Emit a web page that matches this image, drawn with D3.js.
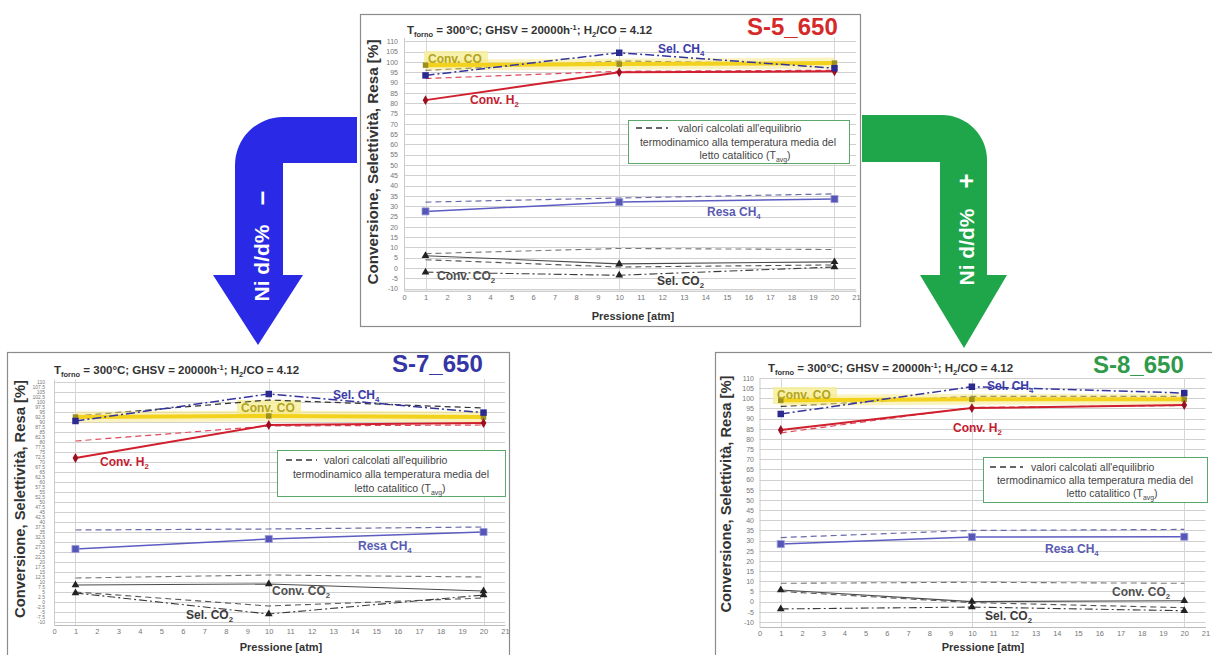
<!DOCTYPE html>
<html><head><meta charset="utf-8">
<script src="https://cdn.jsdelivr.net/npm/d3@7"></script>
<style>
body{margin:0;background:#fff;}
svg{display:block;}
text{font-family:Arial,"Liberation Sans",sans-serif;}
</style>
</head><body>
<svg id="fig" width="1212" height="655"></svg>
<script>
// ---------------- DATA ----------------
const pressures = [1, 10, 20];
const xTickValues = d3.range(0, 22);
const yTicksS5 = d3.range(-10, 111, 5);
const yTicksS7 = d3.range(-10, 111, 2.5);
const yTicksS8 = d3.range(-10, 111, 5);
const gridTicks = d3.range(-10, 111, 5);
const vGridPressures = [1, 10, 20];

// S-5_650
const s5ConvCO = [98.5, 99, 99.5];
const s5SelCH4 = [93.5, 104.5, 97];
const s5ConvH2 = [81.5, 95, 95.5];
const s5ResaCH4 = [27.5, 32, 33.5];
const s5ConvCO2 = [6, 2, 3];
const s5SelCO2 = [-2, -3.5, 0.5];
const s5EqSelCH4 = [96, 100.5, 99];
const s5EqConvH2 = [92, 95.5, 96];
const s5EqResaCH4 = [32, 34, 36];
const s5EqConvCO2 = [7, 9.5, 9];
const s5EqSelCO2 = [4, 0.5, 1.5];

// S-7_650
const s7ConvCO = [92.5, 93, 92.5];
const s7SelCH4 = [90.5, 104, 94.7];
const s7ConvH2 = [72, 88.5, 89.5];
const s7ResaCH4 = [26.5, 31.5, 35];
const s7ConvCO2 = [8.5, 9, 5.5];
const s7SelCO2 = [4.5, -6, 3.5];
const s7EqSelCH4 = [93, 101, 97];
const s7EqConvH2 = [80.5, 88, 88.5];
const s7EqResaCH4 = [36, 36.5, 37.5];
const s7EqConvCO2 = [12, 13.5, 12.5];
const s7EqSelCO2 = [5, -2, 2];

// S-8_650
const s8ConvCO = [99, 99.5, 99.5];
const s8SelCH4 = [92.3, 105.7, 102.6];
const s8ConvH2 = [84.4, 95.2, 96.7];
const s8ResaCH4 = [28.3, 31.8, 31.9];
const s8ConvCO2 = [5.7, 0, 0.4];
const s8SelCO2 = [-3.6, -2.7, -4.5];
const s8EqSelCH4 = [96, 101, 101];
const s8EqConvH2 = [83, 95.5, 96.5];
const s8EqResaCH4 = [31.5, 35, 35.5];
const s8EqConvCO2 = [9, 9.5, 9];
const s8EqSelCO2 = [5, -0.5, -3];

const arrowTexts = ["Ni d/d%", "Ni d/d%"];
const arrowSigns = ["–", "+"];

// ---------------- STYLES ----------------
const sty = {
  convCO:{stroke:"#f3d21e", w:4},
  selCH4:{stroke:"#34349e", w:1.5, dash:"9,3,2,3"},
  convH2:{stroke:"#d0202e", w:2},
  resaCH4:{stroke:"#5c5cc2", w:1.5},
  convCO2:{stroke:"#4a4a4a", w:1.1},
  selCO2:{stroke:"#3a3a3a", w:1.1, dash:"8,3,2,3"},
  eqSelCH4:{stroke:"#333", w:1.2, dash:"6,4"},
  eqConvH2:{stroke:"#e0485a", w:1.2, dash:"6,4"},
  eqResaCH4:{stroke:"#6a6aa8", w:1.2, dash:"6,4"},
  eqConvCO2:{stroke:"#777", w:1.1, dash:"6,4"},
  eqSelCO2:{stroke:"#555", w:1.1, dash:"6,4"}
};
const LBL = 12;
const LEG = 10.5;
const COND = 11.5;

const svg = d3.select("#fig");

function addSubText(g, x, y, parts, opts) {
  const t = g.append("text").attr("x", x).attr("y", y)
    .attr("font-size", opts.size).attr("font-weight", opts.weight || "bold")
    .attr("fill", opts.fill).attr("text-anchor", opts.anchor || "start");
  parts.forEach(p => {
    const ts = t.append("tspan").text(p.t);
    if (p.sub) ts.attr("font-size", opts.size * 0.65).attr("dy", opts.size * 0.25);
    else if (p.sup) ts.attr("font-size", opts.size * 0.65).attr("dy", -opts.size * 0.35);
    if (p.reset) ts.attr("dy", p.reset * opts.size);
  });
  return t;
}

function drawChart(c) {
  const g = svg.append("g");
  const [fx0, fy0, fx1, fy1] = c.frame;
  g.append("rect").attr("x", fx0 + 0.5).attr("y", fy0 + 0.5)
    .attr("width", fx1 - fx0).attr("height", fy1 - fy0)
    .attr("fill", "#fff").attr("stroke", "#8c8c8c").attr("stroke-width", 1.2);

  const x = d3.scaleLinear().domain([0, 21]).range(c.xRange);
  const y = d3.scaleLinear().domain(c.yDomain).range(c.yRange);

  g.append("g").selectAll("line").data(gridTicks).join("line")
    .attr("x1", x(0)).attr("x2", x(21))
    .attr("y1", d => Math.round(y(d)) + 0.5).attr("y2", d => Math.round(y(d)) + 0.5)
    .attr("stroke", "#d0d0d0").attr("stroke-width", 1);
  g.append("g").selectAll("line").data(vGridPressures).join("line")
    .attr("x1", d => Math.round(x(d)) + 0.5).attr("x2", d => Math.round(x(d)) + 0.5)
    .attr("y1", y(c.yDomain[1])).attr("y2", y(c.yDomain[0]))
    .attr("stroke", "#d6d6d6").attr("stroke-width", 1);

  const xa = g.append("g").attr("transform", `translate(0,${y(c.yDomain[0])})`)
    .call(d3.axisBottom(x).tickValues(xTickValues).tickSize(0).tickPadding(c.xPad).tickFormat(d3.format("d")));
  xa.select(".domain").attr("stroke", "#bbb");
  xa.selectAll("text").attr("font-size", 7.5).attr("fill", "#777").attr("font-family", "Arial");

  const ya = g.append("g").attr("transform", `translate(${x(0)},0)`)
    .call(d3.axisLeft(y).tickValues(c.yTicks).tickSize(0).tickPadding(c.yPad).tickFormat(d => d));
  ya.select(".domain").attr("stroke", "#ccc");
  ya.selectAll("text").attr("font-size", c.yFont).attr("fill", "#777").attr("font-family", "Arial");

  const hl = c.labels.convCO.hl;
  g.append("rect").attr("x", hl[0]).attr("y", hl[1]).attr("width", hl[2]).attr("height", hl[3])
    .attr("fill", "#f6ee9c").attr("opacity", 0.85);

  const line = d3.line().x(d => x(d[0])).y(d => y(d[1]));
  const pts = arr => pressures.map((p, i) => [p, arr[i]]);

  function drawSeries(arr, s, opacity) {
    g.append("path").datum(pts(arr)).attr("d", line)
      .attr("fill", "none").attr("stroke", s.stroke).attr("stroke-width", s.w)
      .attr("stroke-dasharray", s.dash || null).attr("opacity", opacity || 1);
  }

  drawSeries(c.d.eqSelCH4, sty.eqSelCH4);
  drawSeries(c.d.eqConvH2, sty.eqConvH2);
  drawSeries(c.d.eqResaCH4, sty.eqResaCH4);
  drawSeries(c.d.eqConvCO2, sty.eqConvCO2);
  drawSeries(c.d.eqSelCO2, sty.eqSelCO2);

  drawSeries(c.d.convCO, {stroke:"#f7ea8a", w:11}, 0.55);
  drawSeries(c.d.convCO, sty.convCO);
  drawSeries(c.d.convH2, sty.convH2);
  drawSeries(c.d.selCH4, sty.selCH4);
  drawSeries(c.d.resaCH4, sty.resaCH4);
  drawSeries(c.d.convCO2, sty.convCO2);
  drawSeries(c.d.selCO2, sty.selCO2);

  function markers(arr, type, size, fill, stroke) {
    g.append("g").selectAll("path").data(pts(arr)).join("path")
      .attr("transform", d => `translate(${x(d[0])},${y(d[1])})`)
      .attr("d", d3.symbol().type(type).size(size))
      .attr("fill", fill).attr("stroke", stroke || "none").attr("stroke-width", 0.8);
  }
  markers(c.d.convCO, d3.symbolSquare, 30, "#9c9020");
  markers(c.d.convH2, d3.symbolDiamond, 28, "#9a1020");
  markers(c.d.selCH4, d3.symbolSquare, 42, "#2a2a90");
  markers(c.d.resaCH4, d3.symbolSquare, 50, "#5656b8", "#9a9ad8");
  markers(c.d.convCO2, d3.symbolTriangle, 26, "#222");
  markers(c.d.selCO2, d3.symbolTriangle, 26, "#222");

  addSubText(g, c.cond[0], c.cond[1], [
    {t:"T"}, {t:"forno", sub:true}, {t:" = 300°C; GHSV = 20000h", reset: -0.25},
    {t:"-1", sup:true}, {t:"; H", reset: 0.35}, {t:"2", sub:true}, {t:"/CO = 4.12", reset: -0.25}
  ], {size:COND, fill:"#333"});

  g.append("text").attr("x", c.title[0]).attr("y", c.title[1]).text(c.name)
    .attr("font-size", 24).attr("font-weight", "bold").attr("fill", c.titleColor);

  g.append("text").attr("transform", `translate(${c.yLab[0]},${c.yLab[1]}) rotate(-90)`)
    .attr("text-anchor", "middle").attr("dominant-baseline", "central")
    .attr("font-size", 14).attr("font-weight", "bold").attr("fill", "#333")
    .attr("textLength", c.yLab[2]).attr("lengthAdjust", "spacingAndGlyphs")
    .text("Conversione, Selettività, Resa [%]");
  g.append("text").attr("x", c.xLab[0]).attr("y", c.xLab[1]).attr("text-anchor", "middle")
    .attr("font-size", 11).attr("font-weight", "bold").attr("fill", "#333").text("Pressione [atm]");

  const L = c.labels;
  addSubText(g, L.convCO.p[0], L.convCO.p[1], [{t:"Conv. CO"}], {size:LBL, fill:"#b4a420"});
  addSubText(g, L.selCH4[0], L.selCH4[1], [{t:"Sel. CH"}, {t:"4", sub:true}], {size:LBL, fill:"#3a3aa8"});
  addSubText(g, L.convH2[0], L.convH2[1], [{t:"Conv. H"}, {t:"2", sub:true}], {size:LBL, fill:"#c42030"});
  addSubText(g, L.resaCH4[0], L.resaCH4[1], [{t:"Resa CH"}, {t:"4", sub:true}], {size:LBL, fill:"#5a5ab4"});
  addSubText(g, L.convCO2[0], L.convCO2[1], [{t:"Conv. CO"}, {t:"2", sub:true}], {size:LBL, fill:"#505050"});
  addSubText(g, L.selCO2[0], L.selCO2[1], [{t:"Sel. CO"}, {t:"2", sub:true}], {size:LBL, fill:"#3a3a3a"});

  const lb = c.legend;
  g.append("rect").attr("x", lb.box[0] + 0.5).attr("y", lb.box[1] + 0.5)
    .attr("width", lb.box[2] - lb.box[0]).attr("height", lb.box[3] - lb.box[1])
    .attr("fill", "#fff").attr("stroke", "#5aa86a").attr("stroke-width", 1);
  g.append("line").attr("x1", lb.dash[0]).attr("x2", lb.dash[1]).attr("y1", lb.dash[2]).attr("y2", lb.dash[2])
    .attr("stroke", "#333").attr("stroke-width", 1.4).attr("stroke-dasharray", "6,4");
  g.append("text").attr("x", lb.l1[0]).attr("y", lb.l1[1]).attr("font-size", LEG).attr("fill", "#444")
    .text("valori calcolati all'equilibrio");
  g.append("text").attr("x", lb.l2[0]).attr("y", lb.l2[1]).attr("font-size", LEG).attr("fill", "#444")
    .attr("text-anchor", "middle").text("termodinamico alla temperatura media del");
  addSubText(g, lb.l3[0], lb.l3[1], [{t:"letto catalitico (T"}, {t:"avg", sub:true}, {t:")", reset: -0.25}],
    {size:LEG, fill:"#444", weight:"normal", anchor:"middle"});
}

const charts = [
  { name:"S-5_650", titleColor:"#d42a2a", frame:[360,14,860,326],
    xRange:[404,856], yDomain:[-11,112], yRange:[290.7,37.3], yTicks:yTicksS5, yPad:6, yFont:7, xPad:4,
    d:{convCO:s5ConvCO, selCH4:s5SelCH4, convH2:s5ConvH2, resaCH4:s5ResaCH4, convCO2:s5ConvCO2, selCO2:s5SelCO2,
       eqSelCH4:s5EqSelCH4, eqConvH2:s5EqConvH2, eqResaCH4:s5EqResaCH4, eqConvCO2:s5EqConvCO2, eqSelCO2:s5EqSelCO2},
    cond:[407,34], title:[747,35], yLab:[373,162,245], xLab:[633,320],
    labels:{convCO:{p:[428,63], hl:[424,51,64,17]}, selCH4:[658,53], convH2:[470,104], resaCH4:[707,216], convCO2:[437,280], selCO2:[657,285]},
    legend:{box:[628,120,849,163], dash:[636,668,128], l1:[678,132], l2:[738,146], l3:[745,159]} },
  { name:"S-7_650", titleColor:"#3535a5", frame:[7,352,509,668],
    xRange:[54,505], yDomain:[-11.5,111.5], yRange:[625,379], yTicks:yTicksS7, yPad:9, yFont:5, xPad:4,
    d:{convCO:s7ConvCO, selCH4:s7SelCH4, convH2:s7ConvH2, resaCH4:s7ResaCH4, convCO2:s7ConvCO2, selCO2:s7SelCO2,
       eqSelCH4:s7EqSelCH4, eqConvH2:s7EqConvH2, eqResaCH4:s7EqResaCH4, eqConvCO2:s7EqConvCO2, eqSelCO2:s7EqSelCO2},
    cond:[54,374], title:[392,372], yLab:[20,499,238], xLab:[281,651],
    labels:{convCO:{p:[241,412], hl:[237,400,64,16]}, selCH4:[333,399], convH2:[100,466], resaCH4:[358,550], convCO2:[272,595], selCO2:[186,619]},
    legend:{box:[277,450,505,496], dash:[286,317,460], l1:[324,464], l2:[391,478], l3:[400,492]} },
  { name:"S-8_650", titleColor:"#2e9a4a", frame:[715,352,1215,668],
    xRange:[759.5,1205.5], yDomain:[-12.5,110], yRange:[627,378], yTicks:yTicksS8, yPad:5.5, yFont:7, xPad:4,
    d:{convCO:s8ConvCO, selCH4:s8SelCH4, convH2:s8ConvH2, resaCH4:s8ResaCH4, convCO2:s8ConvCO2, selCO2:s8SelCO2,
       eqSelCH4:s8EqSelCH4, eqConvH2:s8EqConvH2, eqResaCH4:s8EqResaCH4, eqConvCO2:s8EqConvCO2, eqSelCO2:s8EqSelCO2},
    cond:[768,372], title:[1093,373], yLab:[726,494,237], xLab:[983,651],
    labels:{convCO:{p:[777,399], hl:[773,387,64,17]}, selCH4:[987,390], convH2:[953,432], resaCH4:[1045,553], convCO2:[1112,596], selCO2:[985,620]},
    legend:{box:[983,457,1207,502], dash:[990,1023,467], l1:[1031,471], l2:[1095,484], l3:[1112,497]} }
];

// ---------------- ARROWS ----------------
function arrow(shape, color, text, sign, tx, ty, sx, sy) {
  const g = svg.append("g");
  g.append("path").attr("d", shape).attr("fill", color);
  g.append("text").attr("transform", `translate(${tx},${ty}) rotate(-90)`)
    .attr("text-anchor", "middle").attr("dominant-baseline", "central")
    .attr("font-size", 21).attr("font-weight", "bold").attr("fill", "#fff").text(text);
  g.append("text").attr("transform", `translate(${sx},${sy}) rotate(-90)`)
    .attr("text-anchor", "middle").attr("dominant-baseline", "central")
    .attr("font-size", 26).attr("font-weight", "bold").attr("fill", "#fff").text(sign);
}
const R1 = 48, R2 = 45;
const blueShape = `M357,117 L${235+R1},117 A${R1},${R1} 0 0 0 235,${117+R1} L235,275 L213,275 L258,345 L303,275 L283,275 L283,163 L357,163 Z`;
const greenShape = `M862,115 L${987-R2},115 A${R2},${R2} 0 0 1 987,${115+R2} L987,275 L1007,275 L964,348 L920,275 L940,275 L940,162 L862,162 Z`;
arrow(blueShape, "#2a2ae6", arrowTexts[0], arrowSigns[0], 261, 263, 261, 198);
arrow(greenShape, "#20a64a", arrowTexts[1], arrowSigns[1], 966, 247, 966, 181);

charts.forEach(drawChart);
</script>
</body></html>
